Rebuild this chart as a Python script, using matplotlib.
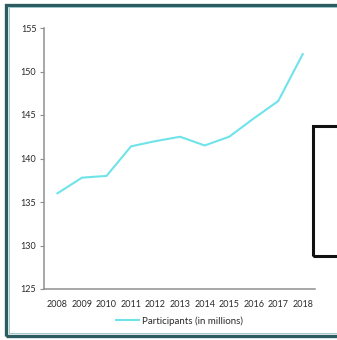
import matplotlib
matplotlib.use('Agg')
import matplotlib.pyplot as plt
from matplotlib.patches import Rectangle

years = ['2008', '2009', '2010', '2011', '2012', '2013', '2014', '2015', '2016', '2017', '2018']
participants = [136.0, 137.8, 138.0, 141.4, 142.0, 142.5, 141.5, 142.5, 144.6, 146.6, 152.0]
y_ticks = [125, 130, 135, 140, 145, 150, 155]

plt.rcParams['font.family'] = ['Lato', 'DejaVu Sans']

fig = plt.figure(figsize=(3.37, 3.40), dpi=100)
ax = fig.add_axes([44/337, 1 - 289/340, (315 - 44)/337, (289 - 28)/340])

x = list(range(len(years)))
ax.plot(x, participants, color='#6fe3ea', lw=1.5, label='Participants (in millions)')

ax.set_xlim(-0.55, len(years) - 0.5)
ax.set_ylim(125, 155)
ax.set_xticks(x)
ax.set_xticklabels(years)
ax.set_yticks(y_ticks)

for s in ['top', 'right']:
    ax.spines[s].set_visible(False)
for s in ['left', 'bottom']:
    ax.spines[s].set_color('#8f8f8f')
    ax.spines[s].set_linewidth(1.1)

ax.tick_params(axis='x', length=0, pad=8, labelsize=6.5, labelcolor='#2a2a2a')
ax.tick_params(axis='y', length=3, width=0.8, color='#8f8f8f', pad=2.5,
               labelsize=6.5, labelcolor='#2a2a2a')

ax.legend(loc='upper center', bbox_to_anchor=(0.5, -0.07), frameon=False,
          fontsize=7, handlelength=2.4, handletextpad=0.3, labelcolor='#2a2a2a')

# outer frame
fig.patches.append(Rectangle((6/337, 4.5/340), 1.1, 331/340, transform=fig.transFigure,
                             fill=False, edgecolor='#2c5c60', lw=2.4, zorder=5))
fig.patches.append(Rectangle((8.5/337, 7/340), 1.1, 326/340, transform=fig.transFigure,
                             fill=False, edgecolor='#8fc3c6', lw=0.6, zorder=5))

# black box at right edge
fig.patches.append(Rectangle((313/337, 1 - 256/340), 0.2, 130/340, transform=fig.transFigure,
                             fill=False, edgecolor='#111111', lw=2.2, zorder=5))

fig.savefig('out.png', dpi=100)
